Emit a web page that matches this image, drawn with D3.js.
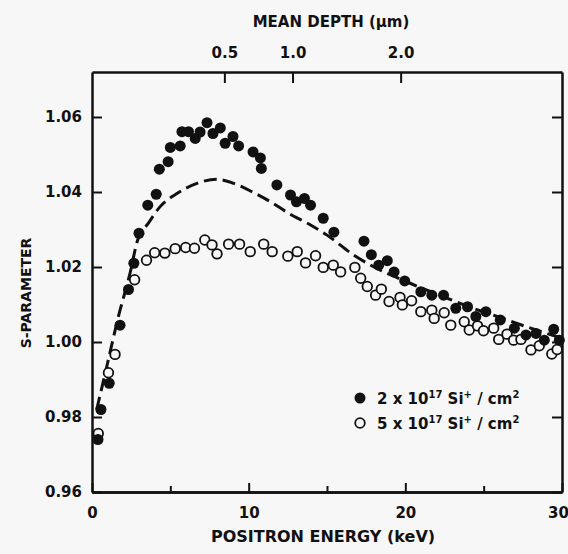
<!DOCTYPE html>
<html>
<head>
<meta charset="utf-8">
<script src="https://cdn.jsdelivr.net/npm/d3@7"></script>
<style>
  body { margin: 0; background: #f7f7f7; }
  svg text { font-family: "DejaVu Sans", sans-serif; font-weight: bold; fill: #111; }
</style>
</head>
<body>
<svg id="svg"></svg>
<script>
// positron energy (keV) and S-parameter, 2e17 Si+/cm2 (filled)
var energyHigh = [0.38, 0.57, 1.10, 1.79, 2.33, 2.67, 3.0, 3.56, 4.1, 4.3, 4.86, 5.0, 5.63, 5.74, 6.16, 6.59, 6.9, 7.34, 7.72, 8.19,
  8.5, 9.0, 9.36, 10.28, 10.75, 10.81, 11.8, 12.67, 13.05, 13.56, 13.95, 14.76, 15.44, 17.36, 17.83, 18.3, 18.85, 19.28, 19.96,
  20.99, 21.69, 22.44, 23.22, 23.97, 24.5, 25.14, 26.06, 26.96, 27.7, 28.34, 28.87, 29.47, 29.83];
var sHigh = [0.974, 0.982, 0.989, 1.0045, 1.014, 1.021, 1.029, 1.0365, 1.0394, 1.0461, 1.0481, 1.0519, 1.0523, 1.0561, 1.0561,
  1.0543, 1.056, 1.0585, 1.0556, 1.0571, 1.053, 1.0548, 1.0523, 1.0507, 1.0491, 1.0463, 1.0419, 1.0392, 1.0374, 1.0383, 1.0365,
  1.033, 1.0293, 1.0269, 1.0233, 1.0205, 1.0217, 1.0187, 1.0163, 1.0134, 1.0125, 1.0125, 1.009, 1.0094, 1.0068, 1.0081, 1.0059,
  1.0037, 1.0019, 1.0023, 1.0005, 1.0034, 1.0005];

// 5e17 Si+/cm2 (open)
var energyLow = [0.4, 1.05, 1.47, 2.72, 3.48, 4.0, 4.65, 5.31, 5.98, 6.54, 7.2, 7.66, 7.98, 8.72, 9.42, 10.1, 10.96, 11.5, 12.5,
  13.1, 13.63, 14.27, 14.76, 15.4, 15.87, 16.78, 17.15, 17.57, 18.1, 18.47, 18.96, 19.66, 19.81, 20.4, 20.99, 21.69, 21.84, 22.48,
  22.9, 23.76, 24.08, 24.61, 24.99, 25.64, 25.96, 26.49, 26.91, 27.38, 28.02, 28.55, 29.35, 29.69];
var sLow = [0.9756, 0.9918, 0.9967, 1.0166, 1.0218, 1.0238, 1.0237, 1.0249, 1.0252, 1.025, 1.0272, 1.0259, 1.0235, 1.0261, 1.0261,
  1.0241, 1.0261, 1.0241, 1.0229, 1.0241, 1.0211, 1.023, 1.0199, 1.0205, 1.0187, 1.0199, 1.017, 1.0148, 1.0125, 1.0141, 1.0108,
  1.0119, 1.0099, 1.011, 1.0081, 1.0085, 1.0063, 1.0078, 1.0045, 1.0054, 1.0032, 1.0043, 1.003, 1.0037, 1.0007, 1.0021, 1.0005,
  1.0007, 0.9979, 0.999, 0.9968, 0.998];

// dashed fit curve
var energyFit = [0.3, 0.94, 1.68, 2.43, 2.9, 3.6, 4.35, 5.42, 6.7, 7.98, 9.04, 10.2, 11.4, 12.56, 13.95, 15.0, 16.7, 18.0, 20.0,
  22.0, 24.0, 26.0, 28.0, 30.0];
var sFit = [0.982, 0.9934, 1.0067, 1.0184, 1.027, 1.0317, 1.0361, 1.0396, 1.0423, 1.0434, 1.0423, 1.0401, 1.0374, 1.0343, 1.0312,
  1.0285, 1.0232, 1.0200, 1.0162, 1.0128, 1.0095, 1.0066, 1.0037, 1.001];

var xTicks = [0, 10, 20, 30];
var xMinorTicks = [5, 15, 25];
var yTicks = [0.96, 0.98, 1.00, 1.02, 1.04, 1.06];
var depthLabels = ["0.5", "1.0", "2.0"];
var depthKeV = [8.45, 12.8, 19.7];

var width = 568, height = 554;
var margin = {left: 92, right: 6, top: 72, bottom: 62};

var svg = d3.select("#svg").attr("width", width).attr("height", height);

var xScale = d3.scaleLinear().domain([0, 30]).range([margin.left, width - margin.right]);
var yScale = d3.scaleLinear().domain([0.96, 1.072]).range([height - margin.bottom, margin.top]);

var x0 = xScale.range()[0], x1 = xScale.range()[1];
var y0 = yScale.range()[0], y1 = yScale.range()[1];

// axes, all ticks point inward
var bottomAxis = svg.append("g").attr("transform", `translate(0, ${y0})`)
    .call(d3.axisBottom(xScale).tickValues(xTicks).tickSize(-9).tickSizeOuter(0).tickPadding(15));
svg.append("g").attr("transform", `translate(0, ${y0})`)
    .call(d3.axisBottom(xScale).tickValues(xMinorTicks).tickSize(-6).tickSizeOuter(0).tickFormat(""));
// last label sits on the page edge, pull it in a little
bottomAxis.selectAll(".tick text").filter(d => d == 30).attr("dx", -4);

var leftAxis = svg.append("g").attr("transform", `translate(${x0}, 0)`)
    .call(d3.axisLeft(yScale).tickValues(yTicks).tickSize(-10).tickSizeOuter(0).tickPadding(10).tickFormat(d3.format(".2f")));
svg.append("g").attr("transform", `translate(${x1}, 0)`)
    .call(d3.axisRight(yScale).tickValues(yTicks).tickSize(-10).tickSizeOuter(0).tickFormat(""));

var topAxis = svg.append("g").attr("transform", `translate(0, ${y1})`)
    .call(d3.axisTop(xScale).tickValues(depthKeV).tickSize(-11).tickSizeOuter(0).tickPadding(14)
      .tickFormat((d, i) => depthLabels[i]));

svg.selectAll(".domain").attr("stroke", "#111").attr("stroke-width", 2.5);
svg.selectAll(".tick line").attr("stroke", "#111").attr("stroke-width", 2);
svg.selectAll(".tick text").attr("font-size", 15).attr("font-family", "DejaVu Sans").attr("font-weight", "bold").attr("fill", "#111");

// axis titles
svg.append("text").attr("x", 331).attr("y", 27).attr("text-anchor", "middle").attr("font-size", 15).text("MEAN DEPTH (\u00b5m)");
svg.append("text").attr("x", 323).attr("y", 542).attr("text-anchor", "middle").attr("font-size", 16).text("POSITRON ENERGY (keV)");
svg.append("text").attr("transform", "translate(31, 293) rotate(-90)").attr("text-anchor", "middle").attr("font-size", 14).text("S-PARAMETER");

// fit curve
var fitData = energyFit.map((e, i) => [e, sFit[i]]);
svg.append("path")
    .datum(fitData)
    .attr("fill", "none")
    .attr("stroke", "#111")
    .attr("stroke-width", 3)
    .attr("stroke-dasharray", "13,6")
    .attr("d", d3.line().x(d => xScale(d[0])).y(d => yScale(d[1])).curve(d3.curveMonotoneX));

// data points
var lowData = energyLow.map((e, i) => [e, sLow[i]]);
var highData = energyHigh.map((e, i) => [e, sHigh[i]]);

svg.append("g").selectAll("circle")
    .data(lowData)
    .enter()
    .append("circle")
    .attr("cx", d => xScale(d[0]))
    .attr("cy", d => yScale(d[1]))
    .attr("r", 4.8)
    .attr("fill", "#f7f7f7")
    .attr("stroke", "#111")
    .attr("stroke-width", 1.8);

svg.append("g").selectAll("circle")
    .data(highData)
    .enter()
    .append("circle")
    .attr("cx", d => xScale(d[0]))
    .attr("cy", d => yScale(d[1]))
    .attr("r", 5.5)
    .attr("fill", "#111");

// legend
var legend = svg.append("g").attr("transform", "translate(360, 398)");
legend.append("circle").attr("cx", 0).attr("cy", 0).attr("r", 5.5).attr("fill", "#111");
legend.append("circle").attr("cx", 0).attr("cy", 25).attr("r", 4.8).attr("fill", "#f7f7f7").attr("stroke", "#111").attr("stroke-width", 1.8);

function legendText(y, dose) {
    var t = legend.append("text").attr("x", 17).attr("y", y).attr("font-size", 15);
    t.append("tspan").text(dose + " x 10");
    t.append("tspan").attr("dy", -6).attr("font-size", 10).text("17");
    t.append("tspan").attr("dy", 6).text(" Si");
    t.append("tspan").attr("dy", -6).attr("font-size", 10).text("+");
    t.append("tspan").attr("dy", 6).text(" / cm");
    t.append("tspan").attr("dy", -6).attr("font-size", 10).text("2");
}
legendText(6, "2");
legendText(31, "5");
</script>
</body>
</html>
